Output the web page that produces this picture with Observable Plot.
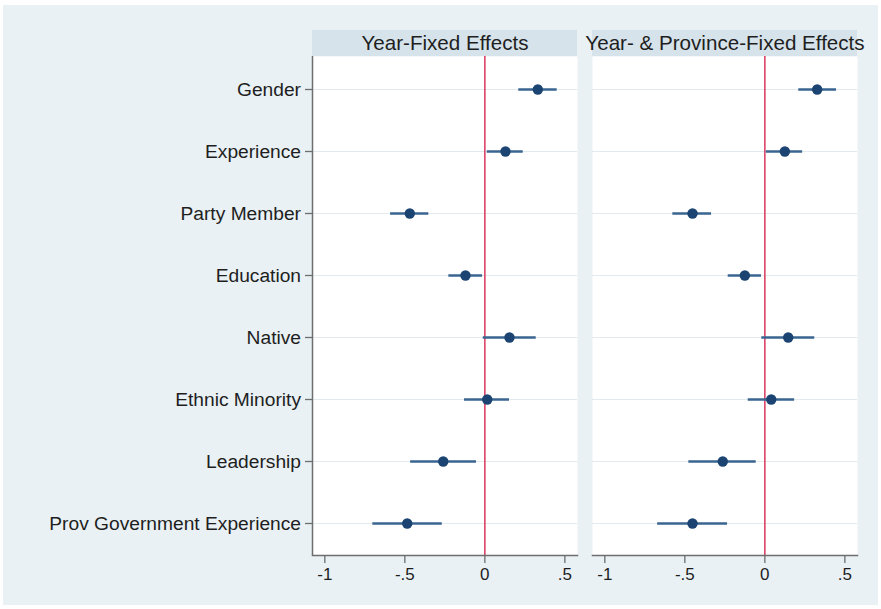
<!DOCTYPE html>
<html>
<head>
<meta charset="utf-8">
<script src="https://cdn.jsdelivr.net/npm/d3@7"></script>
<script src="https://cdn.jsdelivr.net/npm/@observablehq/plot@0.6"></script>
<style>
  html, body { margin: 0; padding: 0; background: #ffffff; }
  #wrap { position: relative; width: 881px; height: 609px; overflow: hidden; }
  #bg { position: absolute; left: 3px; top: 5px; width: 875px; height: 600px; background: #e9f1f4; }
  .hdr { position: absolute; top: 30px; height: 26px; background: #d6e3ea; }
  #chart { position: absolute; left: 0; top: 0; }
</style>
</head>
<body>
<div id="wrap">
  <div id="bg"></div>
  <div class="hdr" style="left:312px;width:265px;"></div>
  <div class="hdr" style="left:592px;width:265px;"></div>
  <div id="chart"></div>
</div>
<script>
const categories = ["Gender", "Experience", "Party Member", "Education", "Native", "Ethnic Minority", "Leadership", "Prov Government Experience"];
const models = ["Year-Fixed Effects", "Year- & Province-Fixed Effects"];

const yearEst = [0.331, 0.129, -0.469, -0.121, 0.154, 0.015, -0.260, -0.485];
const yearLo  = [0.212, 0.015, -0.589, -0.225, -0.010, -0.127, -0.464, -0.700];
const yearHi  = [0.452, 0.240, -0.350, -0.014, 0.321, 0.154, -0.052, -0.266];

const provEst = [0.327, 0.125, -0.452, -0.125, 0.146, 0.040, -0.263, -0.452];
const provLo  = [0.212, 0.009, -0.575, -0.229, -0.019, -0.104, -0.475, -0.670];
const provHi  = [0.448, 0.236, -0.333, -0.021, 0.312, 0.186, -0.054, -0.233];

const xTicks = [-1, -0.5, 0, 0.5];
const xTickLabels = ["-1", "-.5", "0", ".5"];

const rows = [];
categories.forEach((c, i) => {
  rows.push({model: models[0], term: c, est: yearEst[i], lo: yearLo[i], hi: yearHi[i]});
  rows.push({model: models[1], term: c, est: provEst[i], lo: provLo[i], hi: provHi[i]});
});

const xMin = -1.077, xMax = 0.579;
const font = "'Liberation Sans', Arial, Helvetica, sans-serif";

const chart = Plot.plot({
  width: 881,
  height: 609,
  marginLeft: 312,
  marginRight: 24,
  marginTop: 56,
  marginBottom: 54,
  style: {background: "transparent", fontFamily: font, color: "#1e1e1e"},
  fx: {domain: models, paddingInner: 0.0536, paddingOuter: 0, label: null},
  x: {domain: [xMin, xMax], label: null},
  y: {domain: categories, padding: 0.5, label: null},
  marks: [
    Plot.frame({fill: "white", stroke: null}),
    Plot.gridY({stroke: "#e2eaee", strokeOpacity: 1, strokeWidth: 1}),
    Plot.ruleX([0], {stroke: "#dc4468", strokeWidth: 1.6}),
    Plot.ruleY(rows, {fx: "model", y: "term", x1: "lo", x2: "hi", stroke: "#3a6591", strokeWidth: 2.4}),
    Plot.dot(rows, {fx: "model", x: "est", y: "term", r: 5.2, fill: "#1b4472", stroke: null}),
    Plot.frame({anchor: "bottom", stroke: "#6e6e6e", strokeWidth: 1.5}),
    Plot.ruleX([{m: models[0]}], {x: () => xMin, fx: "m", stroke: "#6e6e6e", strokeWidth: 1.5}),
    Plot.axisX({ticks: xTicks, tickFormat: (d) => xTickLabels[xTicks.indexOf(d)], tickSize: 8, tickPadding: 4, fontSize: 17, stroke: "#6e6e6e", strokeWidth: 1.3, label: null}),
    Plot.axisY({tickSize: 7, tickPadding: 4.5, fontSize: 19.2, stroke: "#6e6e6e", strokeWidth: 1.3, label: null}),
    Plot.axisFx({anchor: "top", tickSize: 0, tickPadding: 7, fontSize: 20.6, label: null})
  ]
});
document.getElementById("chart").appendChild(chart);
</script>
</body>
</html>
